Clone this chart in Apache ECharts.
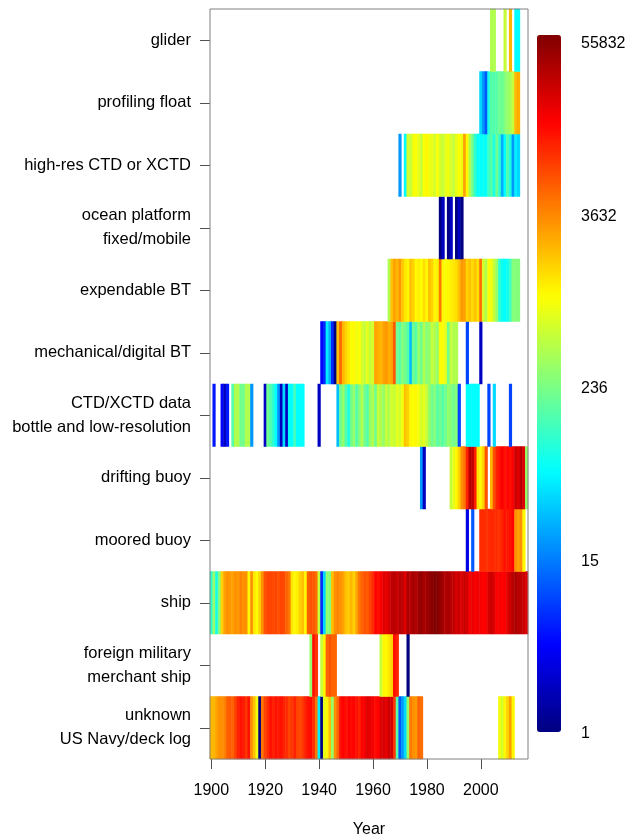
<!DOCTYPE html>
<html><head><meta charset="utf-8">
<script src="https://cdn.jsdelivr.net/npm/echarts@6/dist/echarts.min.js"></script>
<style>html,body{margin:0;padding:0;background:#fff}#c{width:627px;height:840px}</style>
</head><body><div id="c"></div>
<script>
// ---- categories (bottom to top) ----
const categories = [
  "unknown\nUS Navy/deck log",
  "foreign military\nmerchant ship",
  "ship",
  "moored buoy",
  "drifting buoy",
  "CTD/XCTD data\nbottle and low-resolution",
  "mechanical/digital BT",
  "expendable BT",
  "ocean platform\nfixed/mobile",
  "high-res CTD or XCTD",
  "profiling float",
  "glider"
];
const firstYear = 1900, lastYear = 2017;
const yearTickLabels = ["1900","1920","1940","1960","1980","2000"];
const colorTickLabels = ["1","15","236","3632","55832"];
const colorMax = 55832;

// ---- counts per year (start year + values, null = no data) ----
const gliderStart = 2004;
const gliderValues = [400,400,null,null,null,500,null,2000,null,60,60];

const profilingStart = 2000;
const profilingValues = [40,20,10,80,150,150,150,200,180,250,300,350,500,2000,2200];

const highresStart = 1970;
const highresValues = [20,null,60,600,500,800,900,700,500,900,1000,800,700,600,900,600,500,700,800,600,500,700,900,800,2500,1000,400,200,100,60,60,70,60,120,150,80,200,100,25,60,150,80,20,50,40];

const platformStart = 1985;
const platformValues = [1,2,null,1,2,null,1,2,1];

const expendableStart = 1966;
const expendableValues = [400,1800,2500,2000,2800,1700,1200,1000,1800,1500,1000,1100,900,1300,1000,1800,1500,1000,1100,4000,1000,900,1000,1100,1200,1300,1800,2800,2500,1500,1800,1400,1700,1300,4500,600,400,900,800,500,300,100,70,60,70,120,250,250,250];

const mechStart = 1941;
const mechValues = [4,6,50,25,6,1,1800,5000,2000,1500,1200,900,1000,800,900,600,500,700,500,600,2500,2200,2000,2500,2800,2200,2500,5500,200,150,250,200,150,30,200,150,300,200,400,250,300,500,400,300,900,900,700,200,500,400,400,null,null,null,8,null,null,null,null,2];

const ctdStart = 1901;
const ctdValues = [5,null,null,4,2,5,null,150,400,400,200,200,400,400,20,null,null,null,null,2,200,150,100,60,20,2,40,2,60,60,120,60,60,60,null,null,null,null,null,2,null,null,null,null,null,null,30,
  200,300,150,80,200,300,150,250,400,200,150,300,400,200,500,400,300,500,400,600,500,700,600,800,1800,1500,1000,900,1000,800,600,700,500,300,200,250,150,200,150,200,300,250,200,250,
  8,null,null,60,60,60,60,60,null,null,null,8,null,40,null,null,null,null,null,8];

const driftStart = 1978;
const driftValues = [20,2,null,null,null,null,null,null,null,null,null,500,700,1000,1500,3000,4000,10000,30000,28000,10000,1200,1000,1500,6000,null,2000,6000,10000,12000,15000,12000,14000,12000,15000,25000,20000,30000,20000,300];

const mooredStart = 1995;
const mooredValues = [3,null,10,null,null,9000,9000,8500,9000,9500,9000,9000,8500,10000,12000,11000,12000,14000,3000,2500,3000,1000];

const shipStart = 1900;
const shipValues = [100,300,80,250,1500,2500,3000,2800,2500,3000,2800,3500,3000,3000,1000,3000,1200,900,1500,3000,
  6000,7000,7000,6500,7000,6000,7000,6500,5000,4000,1200,1000,1100,1500,1800,1000,5000,6000,5500,4500,
  500,6,40,300,250,1800,3000,3500,3000,2500,1800,1600,2000,1500,2500,4000,5000,6000,5500,7000,
  9000,14000,12000,15000,20000,18000,22000,28000,30000,25000,30000,28000,20000,35000,30000,38000,33000,40000,45000,35000,
  40000,45000,50000,55832,52000,45000,38000,33000,36000,30000,28000,22000,25000,20000,26000,22000,16000,18000,15000,17000,
  16000,14000,15000,22000,25000,20000,15000,16000,14000,15000,20000,25000,30000,35000,30000,28000,25000,20000];

const foreignStart = 1937;
const foreignValues = [300,12000,8000,null,500,1000,5000,6000,5000,5000,null,null,null,null,null,null,null,null,null,null,null,null,null,null,null,null,500,1000,1000,1200,1500,12000,10000,null,null,null,1];

const unknownStart = 1900;
const unknownValues = [2000,2000,2500,3000,3000,3500,5000,5500,5000,7000,10000,12000,11000,8000,12000,3000,1800,800,1,4000,
  7000,9000,12000,10000,12000,11000,12000,10000,9000,7000,8000,10000,7000,6500,8000,10000,12000,13000,9000,4000,
  50,1,700,1000,1800,300,3000,5000,12000,14000,12000,15000,13000,14000,12000,10000,14000,16000,20000,18000,
  16000,13000,14000,20000,22000,18000,25000,22000,8000,150,10,20,40,300,4000,3000,2800,5000,4500,
  null,null,null,null,null,null,null,null,null,null,null,null,null,null,null,null,null,null,null,null,null,null,null,null,null,null,null,null,
  800,600,1000,1500,2500,1000];

// ---- build ----
const years = [];
for (let y = firstYear; y <= lastYear; y++) years.push(String(y));

const rows = [
  [unknownStart, unknownValues], [foreignStart, foreignValues], [shipStart, shipValues],
  [mooredStart, mooredValues], [driftStart, driftValues], [ctdStart, ctdValues],
  [mechStart, mechValues], [expendableStart, expendableValues], [platformStart, platformValues],
  [highresStart, highresValues], [profilingStart, profilingValues], [gliderStart, gliderValues]
];
const data = [];
rows.forEach(([start, vals], r) => {
  vals.forEach((v, k) => {
    if (v != null) data.push([start + k - firstYear, r, Math.log(v), v]);
  });
});

function jet(t) {
  const c = x => Math.max(0, Math.min(1, x));
  const r = c(1.5 - Math.abs(4 * t - 3)), g = c(1.5 - Math.abs(4 * t - 2)), b = c(1.5 - Math.abs(4 * t - 1));
  const h = x => Math.round(x * 255).toString(16).padStart(2, '0');
  return '#' + h(r) + h(g) + h(b);
}
const jetColors = [];
for (let i = 0; i <= 64; i++) jetColors.push(jet(i / 64));

const font = "'Liberation Sans', Arial, sans-serif";
const chart = echarts.init(document.getElementById('c'), null, { renderer: 'canvas' });
chart.setOption({
  animation: false,
  backgroundColor: '#fff',
  grid: [
    { left: 210, top: 9, width: 318, height: 750, show: true, z: 10, backgroundColor: 'transparent', borderColor: '#808080', borderWidth: 1, outerBoundsMode: 'none', containLabel: false },
    { left: 537, top: 44, width: 24, height: 690, show: false, outerBoundsMode: 'none', containLabel: false }
  ],
  xAxis: [
    {
      type: 'category', data: years, gridIndex: 0,
      axisLine: { show: false },
      axisTick: { show: true, alignWithLabel: true, length: 10, lineStyle: { color: '#505050' },
        interval: (i, v) => yearTickLabels.includes(v) },
      axisLabel: { fontFamily: font, fontSize: 16, color: '#000', margin: 24,
        interval: (i, v) => yearTickLabels.includes(v) },
      name: 'Year', nameLocation: 'middle', nameGap: 63,
      nameTextStyle: { fontFamily: font, fontSize: 16, color: '#000' },
      splitLine: { show: false }
    },
    { type: 'value', gridIndex: 1, show: false }
  ],
  yAxis: [
    {
      type: 'category', data: categories, gridIndex: 0,
      axisLine: { show: false },
      axisTick: { show: true, alignWithLabel: true, length: 10, lineStyle: { color: '#505050' } },
      axisLabel: { fontFamily: font, fontSize: 16.5, color: '#000', margin: 19, lineHeight: 24, align: 'right' },
      splitLine: { show: false }
    },
    {
      type: 'category', data: colorTickLabels, gridIndex: 1, boundaryGap: false, position: 'right',
      axisLine: { show: false }, axisTick: { show: false },
      axisLabel: { fontFamily: font, fontSize: 16, color: '#000', margin: 20, align: 'left' },
      splitLine: { show: false }
    }
  ],
  visualMap: {
    type: 'continuous', min: 0, max: Math.log(colorMax), dimension: 2, seriesIndex: 0,
    calculable: false, hoverLink: false, orient: 'vertical',
    left: 537, top: 35, itemWidth: 24, itemHeight: 697, padding: 0,
    text: null, showLabel: false,
    inRange: { color: jetColors }
  },
  series: [{
    type: 'heatmap', xAxisIndex: 0, yAxisIndex: 0, data: data,
    emphasis: { disabled: true }, progressive: 0
  }]
});
</script></body></html>
